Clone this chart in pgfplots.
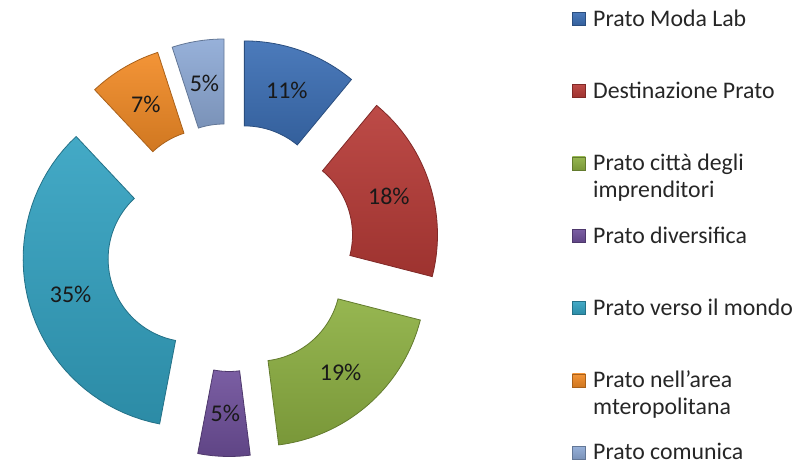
\documentclass[border=0pt]{standalone}
\usepackage{pgfplots}
\usepackage{pgfplotstable}
\usepackage{fontspec}
\setmainfont{Carlito}
\pgfplotsset{compat=1.18}

\definecolor{c0}{HTML}{3C6FB5}
\definecolor{c1}{HTML}{B73B37}
\definecolor{c2}{HTML}{8DB042}
\definecolor{c3}{HTML}{6F509B}
\definecolor{c4}{HTML}{33A2C1}
\definecolor{c5}{HTML}{F28B26}
\definecolor{c6}{HTML}{8EAAD6}

% share of each project (percent), clockwise from 12 o'clock
\pgfplotstableread{
val
11
18
19
5
35
7
5
}\piedata
\pgfplotstablecreatecol[create col/expr accum={\pgfmathaccuma+\thisrow{val}}{0}]{cum}\piedata

\def\cx{230.5}
\def\cy{214.5}
\def\Rout{168}
\def\Rin{83}
\def\dex{41}
\pgfmathsetmacro\Rlab{\dex+(\Rout+\Rin)/2}
\newcommand\two[2]{\begin{tabular}[t]{@{}l@{}}#1\\#2\end{tabular}}

\begin{document}
\begin{tikzpicture}
\begin{axis}[
  width=803pt, height=462pt, scale only axis,
  xmin=0, xmax=803, ymin=0, ymax=462,
  axis lines=none, clip=false,
  legend cell align=left,
  legend image code/.code={\path[#1, line width=0.5pt] (0pt,20pt) rectangle (13pt,33pt);},
  legend style={draw=none, fill=none, at={(572/803,453/462)}, anchor=north west,
    inner sep=0pt, row sep=0pt,
    font=\fontsize{23.8}{26.5}\selectfont, text=black!85,
    nodes={inner sep=0pt, text height=17pt, text depth=55.3pt},
    /tikz/every odd column/.append style={column sep=7.5pt}},
]
\pgfplotsinvokeforeach{0,...,6}{
  \pgfplotstablegetelem{#1}{val}\of\piedata \let\V\pgfplotsretval
  \pgfplotstablegetelem{#1}{cum}\of\piedata \let\C\pgfplotsretval
  \pgfmathsetmacro\Aang{3.6*(\C-\V)}
  \pgfmathsetmacro\Bang{3.6*\C}
  \pgfmathsetmacro\Mang{3.6*(\C-\V/2)}
  \pgfmathsetmacro\ccx{\cx+\dex*sin(\Mang)}
  \pgfmathsetmacro\ccy{\cy+\dex*cos(\Mang)}
  \addplot[top color=c#1!92!white, bottom color=c#1!86!black, draw=c#1!70!black, line width=0.8pt,
     domain=0:81, samples=82, variable=t]
   ({\ccx + ifthenelse(t<=40.5,\Rout,\Rin)*sin(\Aang+(\Bang-\Aang)*ifthenelse(t<=40.5,t/40,(81-t)/40))},
    {\ccy + ifthenelse(t<=40.5,\Rout,\Rin)*cos(\Aang+(\Bang-\Aang)*ifthenelse(t<=40.5,t/40,(81-t)/40))}) -- cycle;
}
\addplot[forget plot, only marks, mark=*, mark size=0pt, mark options={draw=none, fill=none},
  point meta=explicit,
  nodes near coords={\pgfmathprintnumber[assume math mode=true]{\pgfplotspointmeta}\%},
  every node near coord/.style={anchor=center, font=\fontsize{24}{28}\selectfont, text=black!90}]
  table[x expr={\cx+\Rlab*sin(3.6*(\thisrow{cum}-\thisrow{val}/2))},
        y expr={\cy+\Rlab*cos(3.6*(\thisrow{cum}-\thisrow{val}/2))},
        meta=val] {\piedata};
\legend{Prato Moda Lab, Destinazione Prato, \two{Prato città degli}{imprenditori}, Prato diversifica,
  Prato verso il mondo, \two{Prato nell'area}{mteropolitana}, Prato comunica}
\end{axis}
\pgfresetboundingbox
\useasboundingbox (current axis.south west) rectangle (current axis.north east);
\end{tikzpicture}
\end{document}
